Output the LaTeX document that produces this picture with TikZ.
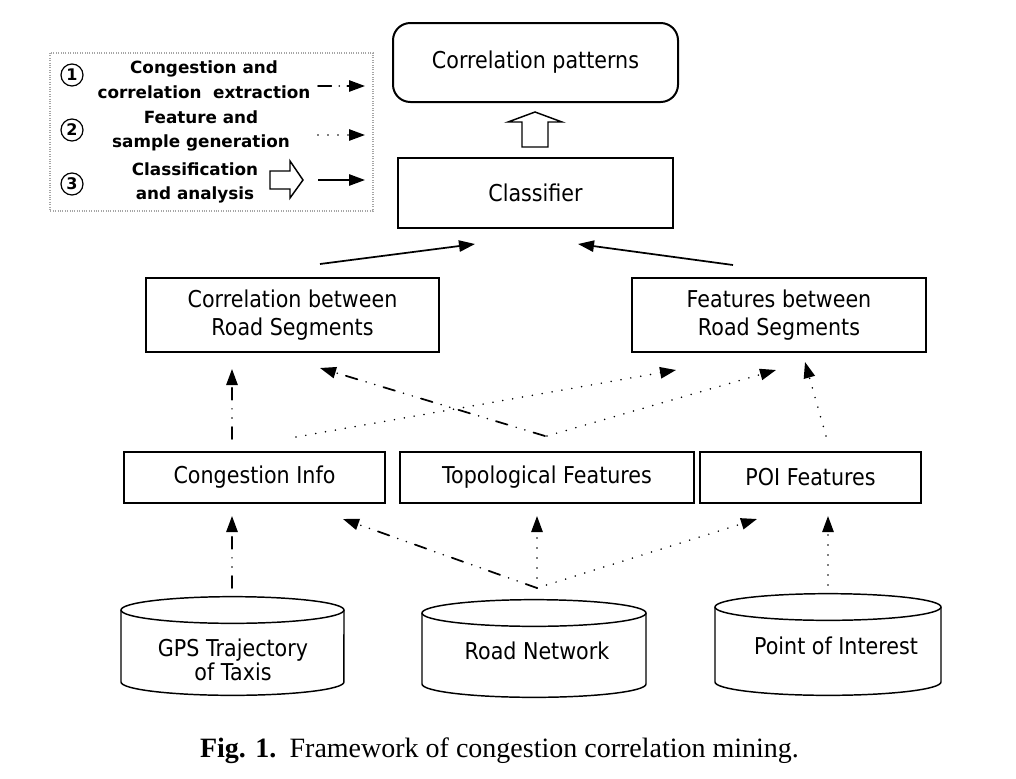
\documentclass[tikz,border=0pt]{standalone}
\usepackage{fontspec}
\setmainfont{DejaVu Sans}[FakeStretch=0.89]
\newfontfamily\legfont{DejaVu Sans}
\newfontfamily\capfont{Liberation Serif}
\usetikzlibrary{arrows.meta,calc}
\begin{document}
\begin{tikzpicture}[x=0.75pt,y=-0.75pt,
  box/.style={draw, line width=1.5pt, rectangle, inner sep=0pt, align=center,
    font=\fontsize{17.4}{21}\selectfont},
  dbtext/.style={inner sep=0pt, align=center, font=\fontsize{17.4}{15}\selectfont},
  arr/.style={-{Triangle[length=12pt,width=8.5pt]}, line width=1.3pt},
  dotl/.style={arr, line cap=round, dash pattern=on 0pt off 7.5pt},
  dashdot/.style={arr, line cap=round, dash pattern=on 9pt off 6.8pt on 0pt off 6.8pt on 0pt off 6.8pt},
  legdashdot/.style={arr, line cap=round, dash pattern=on 10pt off 6pt on 0pt off 6pt},
  cylline/.style={line width=1.1pt},
  legtext/.style={inner sep=0pt, align=center, font=\legfont\bfseries\fontsize{12.6}{18.5}\selectfont},
  num/.style={circle, draw, line width=0.9pt, minimum size=22*0.75pt, inner sep=0pt,
    font=\legfont\bfseries\fontsize{12}{12}\selectfont}
]
\useasboundingbox (0,0) rectangle (1016,778);
\fill[white] (0,0) rectangle (1016,778);

% ---------- legend ----------
\draw[gray!70, line width=0.8pt, densely dotted] (50,53) rectangle (373,211);
\node[num] (n1) at (72,75) {1};
\node[num] (n2) at (72,130) {2};
\node[num] (n3) at (72,184) {3};
\node[legtext] (l1) at (204,80) {Congestion and\\correlation~ extraction};
\node[legtext] (l2) at (201,131) {Feature and\\sample generation};
\node[legtext] (l3) at (195,183) {Classification\\and analysis};
\coordinate (a1s) at (318,86);  \coordinate (a1e) at (365,86);
\coordinate (a2s) at (318,135); \coordinate (a2e) at (365,135);
\coordinate (a3s) at (318,180); \coordinate (a3e) at (365,180);
\draw[legdashdot] (a1s) -- (a1e);
\draw[dotl] (a2s) -- (a2e);
\draw[arr] (a3s) -- (a3e);
\draw[line width=1.1pt, line join=miter] (270,171) -- (290,171) -- (290,161) -- (303,180)
  -- (290,198) -- (290,189) -- (270,189) -- cycle;

% ---------- boxes ----------
\node[box, rounded corners=13pt, minimum width=285*0.75pt, minimum height=79*0.75pt]
  (pat) at (535.5,62.5) {Correlation patterns};
\node[box, minimum width=275*0.75pt, minimum height=70*0.75pt]
  (cls) at (535.5,193) {Classifier};
\node[box, minimum width=293*0.75pt, minimum height=74*0.75pt]
  (corr) at (292.5,315) {Correlation between\\Road Segments};
\node[box, minimum width=294*0.75pt, minimum height=74*0.75pt]
  (feat) at (779,315) {Features between\\Road Segments};
\node[box, minimum width=261*0.75pt, minimum height=51*0.75pt]
  (cong) at (254.5,477.5) {Congestion Info};
\node[box, minimum width=294*0.75pt, minimum height=51*0.75pt]
  (topo) at (547,477.5) {Topological Features};
\node[box, minimum width=221*0.75pt, minimum height=51*0.75pt]
  (poi) at (810.5,477.5) {POI Features};

% hollow arrow classifier -> patterns
\draw[line width=1.1pt, line join=miter] (522,147) -- (522,122) -- (508,122) -- (535,112)
  -- (562,122) -- (548,122) -- (548,147) -- cycle;

% ---------- cylinders ----------
% GPS
\draw[cylline] (121,610) -- (121,682) arc[start angle=180,end angle=360,x radius=83.6pt,y radius=10pt] -- (344,610);
\draw[cylline] (232.5,610) ellipse[x radius=83.6pt, y radius=10pt];
\coordinate (gpstop) at (232,597);
\node[dbtext] (gps) at (233,660) {GPS Trajectory\\of Taxis};
% Road network
\draw[cylline] (422,613) -- (422,684) arc[start angle=180,end angle=360,x radius=84pt,y radius=10pt] -- (646,613);
\draw[cylline] (534,613) ellipse[x radius=84pt, y radius=10pt];
\coordinate (roadtop) at (537,600);
\node[dbtext] (road) at (537,651) {Road Network};
% POI
\draw[cylline] (715,607) -- (715,682) arc[start angle=180,end angle=360,x radius=84.75pt,y radius=10pt] -- (941,607);
\draw[cylline] (828,607) ellipse[x radius=84.75pt, y radius=10pt];
\coordinate (poitop) at (828,594);
\node[dbtext] (poidb) at (836,646) {Point of Interest};

% ---------- connectors ----------
\draw[arr] ($(corr.north)+(27.5,-13)$) -- ($(cls.south)+(-60.5,15)$);
\draw[arr] ($(feat.north)+(-46,-12)$) -- ($(cls.south)+(42.5,15)$);

\draw[dashdot] ($(cong.north)+(-22.5,-12)$) -- ($(corr.south)+(-60.5,16)$);
\draw[dotl] ($(cong.north)+(41.5,-14)$) -- ($(feat.south)+(-103,17)$);
\draw[dashdot] ($(topo.north)+(-2,-15)$) -- ($(corr.south)+(27.5,15)$);
\draw[dotl] ($(topo.north)+(0,-15)$) -- ($(feat.south)+(-3,17)$);
\draw[dotl] ($(poi.north)+(15.5,-15)$) -- ($(feat.south)+(26,9)$);

\draw[dashdot] ($(gpstop)+(0,-9)$) -- ($(cong.south)+(-22.5,12)$);
\draw[dashdot] ($(roadtop)+(0,-12)$) -- ($(cong.south)+(88.5,15)$);
\draw[dotl] ($(roadtop)+(0,-12)$) -- ($(topo.south)+(-10,12)$);
\draw[dotl] ($(roadtop)+(0,-12)$) -- ($(poi.south)+(-53.5,15)$);
\draw[dotl] ($(poitop)+(0,-9)$) -- ($(poi.south)+(17.5,12)$);

% ---------- caption ----------
\node[anchor=base, inner sep=0pt, font=\capfont\fontsize{21}{21}\selectfont] (cap) at (499.5,757)
  {\textbf{Fig. 1.}\hspace{10pt}Framework of congestion correlation mining.};
\end{tikzpicture}
\end{document}
